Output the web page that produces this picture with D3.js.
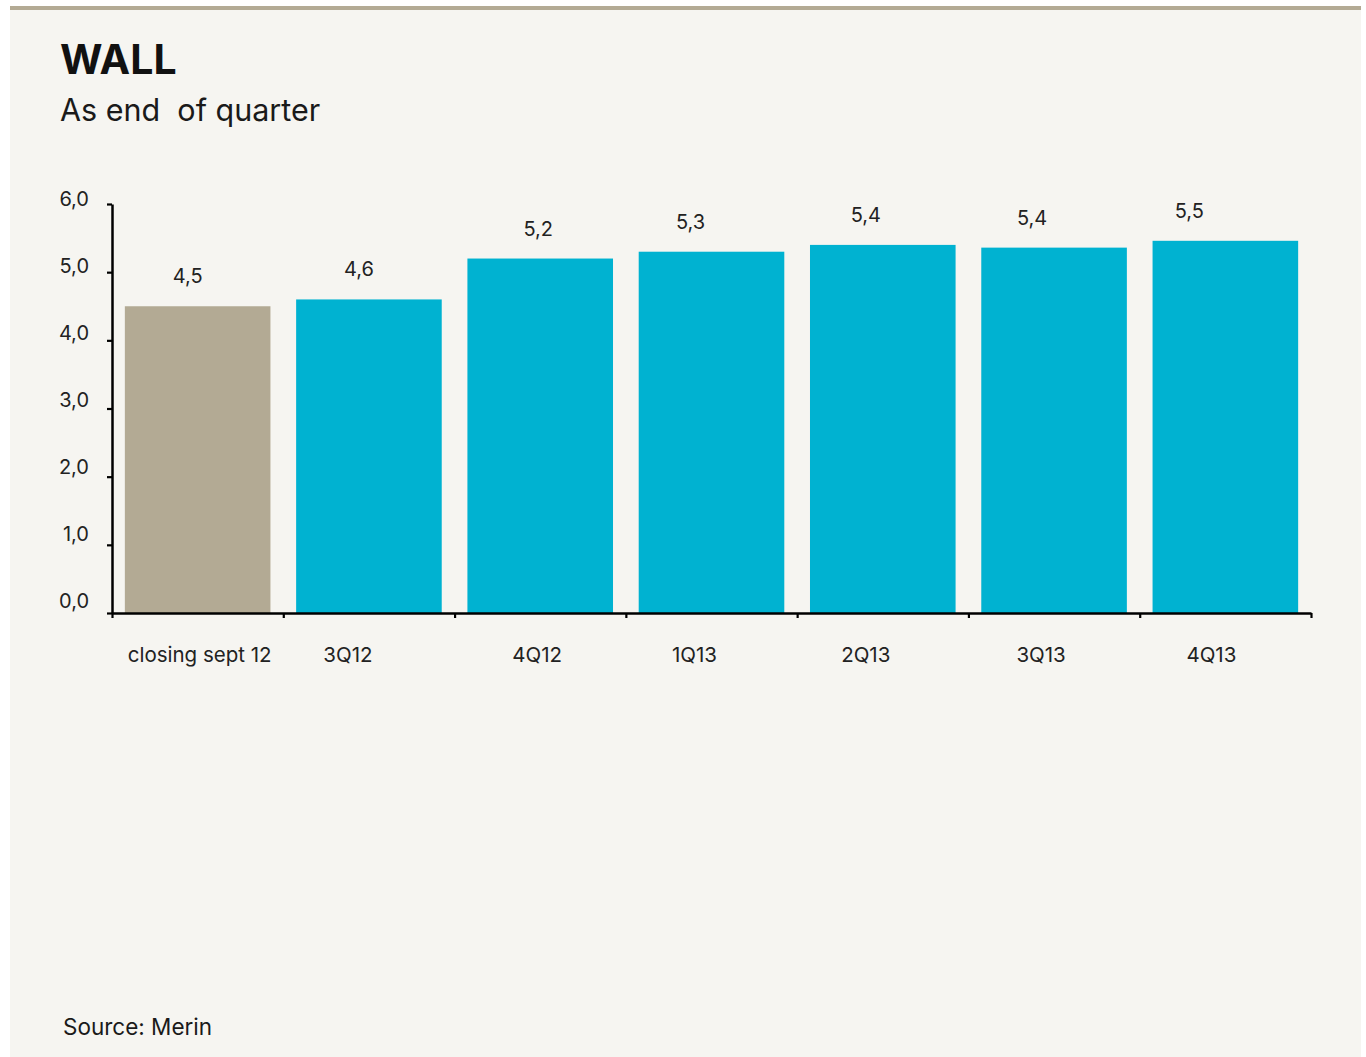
<!DOCTYPE html>
<html>
<head>
<meta charset="utf-8">
<script src="https://cdn.jsdelivr.net/npm/d3@7"></script>
<style>
  body { margin: 0; background: #ffffff; font-family: Inter, "Noto Sans", sans-serif; }
</style>
</head>
<body>
<script>
// chart data
const categories = ['closing sept 12', '3Q12', '4Q12', '1Q13', '2Q13', '3Q13', '4Q13'];
const values = [4.5, 4.6, 5.2, 5.3, 5.4, 5.36, 5.46];
const valueLabels = ['4,5', '4,6', '5,2', '5,3', '5,4', '5,4', '5,5'];
const yTicks = [0, 1, 2, 3, 4, 5, 6];
const yTickLabels = ['0,0', '1,0', '2,0', '3,0', '4,0', '5,0', '6,0'];

const W = 1366, H = 1057;
const plot = { left: 112, right: 1311, top: 204, bottom: 613 };

// small horizontal nudges seen in the original labels
const valueDx = [-10, -10, -2, -21, -17, -22, -36];
const catDx = [2, -21, -3, -17, -17, -13, -14];

const svg = d3.select('body').append('svg')
  .attr('width', W)
  .attr('height', H);

// panel background + top rule
svg.append('rect').attr('x', 10).attr('y', 6).attr('width', 1351).attr('height', H - 6).attr('fill', '#f6f5f1');
svg.append('rect').attr('x', 10).attr('y', 6).attr('width', 1351).attr('height', 4).attr('fill', '#b3aa94');

// titles
svg.append('text').attr('x', 60).attr('y', 74)
  .style('font-size', '41px').style('font-weight', 700).attr('fill', '#111')
  .text('WALL');
svg.append('text').attr('x', 60).attr('y', 121)
  .style('font-size', '30.5px').attr('fill', '#1a1a1a')
  .attr('xml:space', 'preserve')
  .text('As end  of quarter');

// scales
const x = d3.scaleBand().domain(categories).range([plot.left, plot.right])
  .paddingInner(0.15).paddingOuter(0.075);
const y = d3.scaleLinear().domain([0, 6]).range([plot.bottom, plot.top]);
const yLabelPos = d3.scaleLinear().domain([0, 6]).range([601, 199]);
const boundary = d3.scaleLinear().domain([0, categories.length]).range([plot.left, plot.right]);

// bars
svg.selectAll('.bar')
  .data(values)
  .enter().append('rect')
  .attr('class', 'bar')
  .attr('x', (d, i) => x(categories[i]))
  .attr('width', x.bandwidth())
  .attr('y', d => y(d))
  .attr('height', d => y(0) - y(d))
  .attr('fill', (d, i) => i === 0 ? '#b3aa94' : '#00b2d1');

// value labels
svg.selectAll('.val')
  .data(values)
  .enter().append('text')
  .attr('class', 'val')
  .attr('x', (d, i) => x(categories[i]) + x.bandwidth() / 2 + valueDx[i])
  .attr('y', d => y(d) - 23)
  .attr('text-anchor', 'middle')
  .style('font-size', '20px')
  .attr('fill', '#222')
  .text((d, i) => valueLabels[i]);

// y axis (ticks only, labels placed separately)
const yAxis = svg.append('g')
  .attr('transform', 'translate(' + plot.left + ',0)')
  .call(d3.axisLeft(y).tickValues(yTicks).tickSize(5).tickFormat('').tickSizeOuter(0));
yAxis.select('.domain').attr('stroke', '#000').attr('stroke-width', 2.5);
yAxis.selectAll('.tick line').attr('stroke', '#000').attr('stroke-width', 2.2);

svg.selectAll('.ylab')
  .data(yTicks)
  .enter().append('text')
  .attr('class', 'ylab')
  .attr('x', 89)
  .attr('y', d => yLabelPos(d))
  .attr('dy', '0.35em')
  .attr('text-anchor', 'end')
  .style('font-size', '20px')
  .attr('fill', '#222')
  .text((d, i) => yTickLabels[i]);

// x axis with ticks at category boundaries
const xAxis = svg.append('g')
  .attr('transform', 'translate(0,' + plot.bottom + ')')
  .call(d3.axisBottom(boundary).tickValues(d3.range(categories.length + 1)).tickSize(5).tickFormat('').tickSizeOuter(0));
xAxis.select('.domain').attr('stroke', '#000').attr('stroke-width', 2.5);
xAxis.selectAll('.tick line').attr('stroke', '#000').attr('stroke-width', 2.2);

svg.selectAll('.xlab')
  .data(categories)
  .enter().append('text')
  .attr('class', 'xlab')
  .attr('x', (d, i) => x(d) + x.bandwidth() / 2 + catDx[i])
  .attr('y', 662)
  .attr('text-anchor', 'middle')
  .style('font-size', '20.5px')
  .attr('fill', '#222')
  .text(d => d);

// source
svg.append('text').attr('x', 63).attr('y', 1035)
  .style('font-size', '22.5px').attr('fill', '#1a1a1a')
  .text('Source: Merin');
</script>
</body>
</html>
